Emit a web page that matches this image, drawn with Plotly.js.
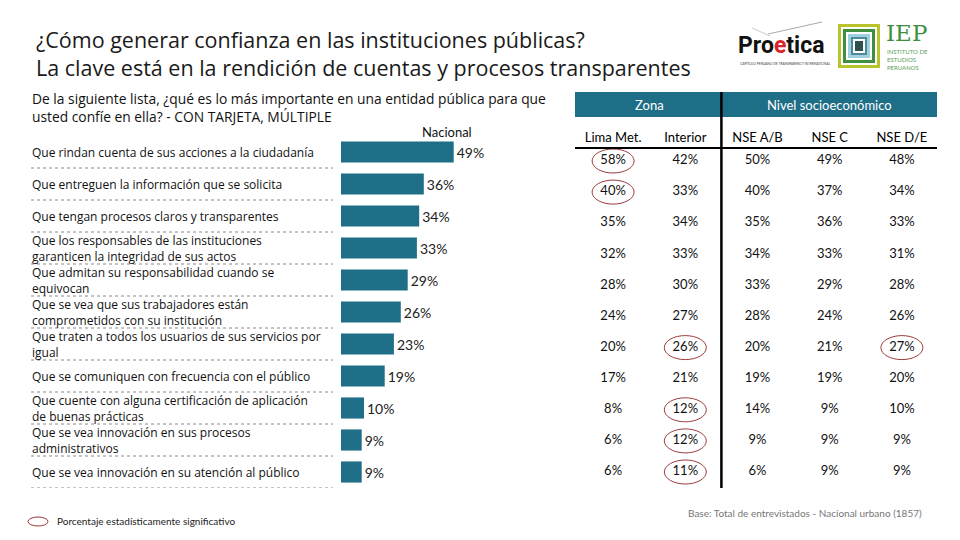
<!DOCTYPE html>
<html>
<head>
<meta charset="utf-8">
<script src="https://cdn.plot.ly/plotly-3.0.1.min.js"></script>
<style>html,body{margin:0;padding:0;background:#fff;}#chart{width:960px;height:540px;}</style>
</head>
<body>
<div id="chart"></div>
<script>
// ---- DATA ----
var items = [
  "Que rindan cuenta de sus acciones a la ciudadanía",
  "Que entreguen la información que se solicita",
  "Que tengan procesos claros y transparentes",
  "Que los responsables de las instituciones<br>garanticen la integridad de sus actos",
  "Que admitan su responsabilidad cuando se<br>equivocan",
  "Que se vea que sus trabajadores están<br>comprometidos con su institución",
  "Que traten a todos los usuarios de sus servicios por<br>igual",
  "Que se comuniquen con frecuencia con el público",
  "Que cuente con alguna certificación de aplicación<br>de buenas prácticas",
  "Que se vea innovación en sus procesos<br>administrativos",
  "Que se vea innovación en su atención al público"
];
var nacional = [49, 36, 34, 33, 29, 26, 23, 19, 10, 9, 9];
var columns = ["Lima Met.", "Interior", "NSE A/B", "NSE C", "NSE D/E"];
var limaMet  = [58, 40, 35, 32, 28, 24, 20, 17, 8, 6, 6];
var interior = [42, 33, 34, 33, 30, 27, 26, 21, 12, 12, 11];
var nseAB    = [50, 40, 35, 34, 33, 28, 20, 19, 14, 9, 6];
var nseC     = [49, 37, 36, 33, 29, 24, 21, 19, 9, 9, 9];
var nseDE    = [48, 34, 33, 31, 28, 26, 27, 20, 10, 9, 9];
// significant cells: [row index, column index]
var significant = [[0,0],[1,0],[6,1],[8,1],[9,1],[10,1],[6,4]];

// ---- STYLE ----
var TEAL = "#1f6e87";
var RED = "#9e3b3b";
var FONT = "Lato, 'Open Sans', sans-serif";
var FONT2 = "'Open Sans', Lato, sans-serif";
function px(x){return x/960;}
function py(y){return 1 - y/540;}

var tableCols = [limaMet, interior, nseAB, nseC, nseDE];
var tx = [], ty = [], tt = [];
for (var c = 0; c < columns.length; c++) {
  for (var r = 0; r < items.length; r++) {
    tx.push(columns[c]); ty.push(items[r]); tt.push(tableCols[c][r] + "%");
  }
}

var traces = [
  {
    type: "bar", orientation: "h",
    x: nacional, y: items,
    marker: {color: TEAL},
    width: 0.66,
    text: nacional.map(function(v){return v + "%";}),
    textposition: "outside",
    textfont: {family: FONT, size: 14, color: "#222"},
    cliponaxis: false,
    hoverinfo: "skip",
    xaxis: "x", yaxis: "y"
  },
  {
    type: "scatter", mode: "text",
    x: tx, y: ty, text: tt,
    textfont: {family: FONT, size: 13, color: "#111"},
    hoverinfo: "skip",
    xaxis: "x2", yaxis: "y2"
  }
];

var shapes = [];
var annotations = [];
function note(o){ o.showarrow = false; if (!o.yanchor) o.yanchor = "middle"; if (!o.xanchor) o.xanchor = "center"; annotations.push(o); }

// dotted separators on left and row labels
for (var i = 0; i < items.length; i++) {
  shapes.push({type: "line", xref: "paper", yref: "y", x0: px(31), x1: px(333), y0: i + 0.5, y1: i + 0.5,
    line: {color: "#8a8a8a", width: 1, dash: "dot"}});
  note({xref: "paper", yref: "y", x: px(30), y: i, xanchor: "left",
    text: items[i], align: "left",
    font: {family: FONT2, size: 12, color: "#111"}});
}

// significance ellipses
significant.forEach(function(s){
  shapes.push({type: "circle", xref: "x2", yref: "y2", xsizemode: "pixel", ysizemode: "pixel",
    xanchor: s[1], yanchor: s[0], x0: -21, x1: 21, y0: -12, y1: 12,
    line: {color: RED, width: 1}});
});

// table header band, lines
shapes.push({type: "rect", layer: "below", xref: "paper", yref: "paper", x0: px(575), x1: px(937), y0: py(117), y1: py(92),
  fillcolor: TEAL, line: {width: 0}});
shapes.push({type: "line", xref: "paper", yref: "paper", x0: px(575), x1: px(937), y0: py(148), y1: py(148),
  line: {color: "#000", width: 2}});
shapes.push({type: "line", xref: "x2", yref: "paper", x0: 1.5, x1: 1.5, y0: py(92), y1: py(488),
  line: {color: "#000", width: 2.5}});

note({xref: "x2", yref: "paper", x: 0.5, y: py(104.5), text: "Zona",
  font: {family: FONT, size: 13, color: "#fff"}});
note({xref: "x2", yref: "paper", x: 3, y: py(104.5), text: "Nivel socioeconómico",
  font: {family: FONT, size: 13, color: "#fff"}});

// titles
note({xref: "paper", yref: "paper", x: px(34), y: py(54), xanchor: "left", align: "left",
  text: "¿Cómo generar confianza en las instituciones públicas?<br>La clave está en la rendición de cuentas y procesos transparentes",
  font: {family: FONT2, size: 21.5, color: "#1a1a1a"}});
note({xref: "paper", yref: "paper", x: px(30), y: py(107.5), xanchor: "left", align: "left",
  text: "De la siguiente lista, ¿qué es lo más importante en una entidad pública para que<br>usted confíe en ella? - CON TARJETA, MÚLTIPLE",
  font: {family: FONT2, size: 13.8, color: "#111"}});
note({xref: "paper", yref: "paper", x: px(447), y: py(132), text: "Nacional",
  font: {family: FONT, size: 13, color: "#111"}});

// footnotes
note({xref: "paper", yref: "paper", x: px(805), y: py(513), text: "Base: Total de entrevistados - Nacional urbano (1857)",
  font: {family: FONT, size: 10, color: "#777"}});
shapes.push({type: "circle", xref: "paper", yref: "paper", x0: px(28), x1: px(48), y0: py(526), y1: py(517),
  line: {color: RED, width: 1}});
note({xref: "paper", yref: "paper", x: px(55), y: py(521), xanchor: "left", text: "Porcentaje estadísticamente significativo",
  font: {family: FONT, size: 10, color: "#222"}});

// logos (approximation)
shapes.push({type: "line", xref: "paper", yref: "paper", x0: px(768), y0: py(34), x1: px(822), y1: py(22), line: {color: "#aaa", width: 1}});
shapes.push({type: "line", xref: "paper", yref: "paper", x0: px(752), y0: py(28), x1: px(770), y1: py(36), line: {color: "#ccc", width: 1}});
note({xref: "paper", yref: "paper", x: px(736), y: py(45), xanchor: "left",
  text: "<b>Pro<span style='color:#d8232a'>e</span>tica</b>", font: {family: "Roboto, sans-serif", size: 23, color: "#111"}});
note({xref: "paper", yref: "paper", x: px(738), y: py(63), xanchor: "left",
  text: "CAPÍTULO PERUANO DE TRANSPARENCY INTERNATIONAL", font: {family: FONT, size: 3.3, color: "#444"}});
var iep = [["#b8c42c",0],["#ffffff",3],["#3f8f3f",5],["#ffffff",8],["#9fd0de",10],["#4a8a9a",13],["#ffffff",15],["#2f4f4f",17]];
iep.forEach(function(r){
  shapes.push({type: "rect", xref: "paper", yref: "paper", x0: px(838 + r[1]), x1: px(880 - r[1]),
    y0: py(68 - r[1]), y1: py(24 + r[1]), fillcolor: r[0], line: {width: 0}});
});
note({xref: "paper", yref: "paper", x: px(884), y: py(33), xanchor: "left",
  text: "IEP", font: {family: "'DejaVu Serif', serif", size: 23, color: "#3f8f3f"}});
note({xref: "paper", yref: "paper", x: px(885), y: py(59), xanchor: "left", align: "left",
  text: "INSTITUTO DE<br>ESTUDIOS<br>PERUANOS", font: {family: FONT, size: 6, color: "#5aa05a"}});

var layout = {
  width: 960, height: 540,
  margin: {l: 0, r: 0, t: 0, b: 0},
  paper_bgcolor: "#fff", plot_bgcolor: "rgba(0,0,0,0)",
  showlegend: false,
  xaxis: {domain: [px(341), px(479)], range: [0, 60], visible: false, fixedrange: true},
  yaxis: {domain: [52/540, 404/540], type: "category", categoryorder: "array", categoryarray: items,
    range: [10.5, -0.5], visible: false, fixedrange: true},
  xaxis2: {domain: [px(577), px(938)], type: "category", categoryarray: columns, categoryorder: "array",
    range: [-0.5, 4.5], side: "top", anchor: "y2", showgrid: false, zeroline: false, showline: false, ticks: "",
    tickfont: {family: FONT, size: 13, color: "#000"}, fixedrange: true},
  yaxis2: {domain: [52.45/540, 394.55/540], type: "category", categoryarray: items, categoryorder: "array",
    range: [10.5, -0.5], anchor: "x2", visible: false, fixedrange: true},
  shapes: shapes,
  annotations: annotations,
  font: {family: FONT}
};

Plotly.newPlot("chart", traces, layout, {displayModeBar: false, staticPlot: true});
</script>
</body>
</html>
